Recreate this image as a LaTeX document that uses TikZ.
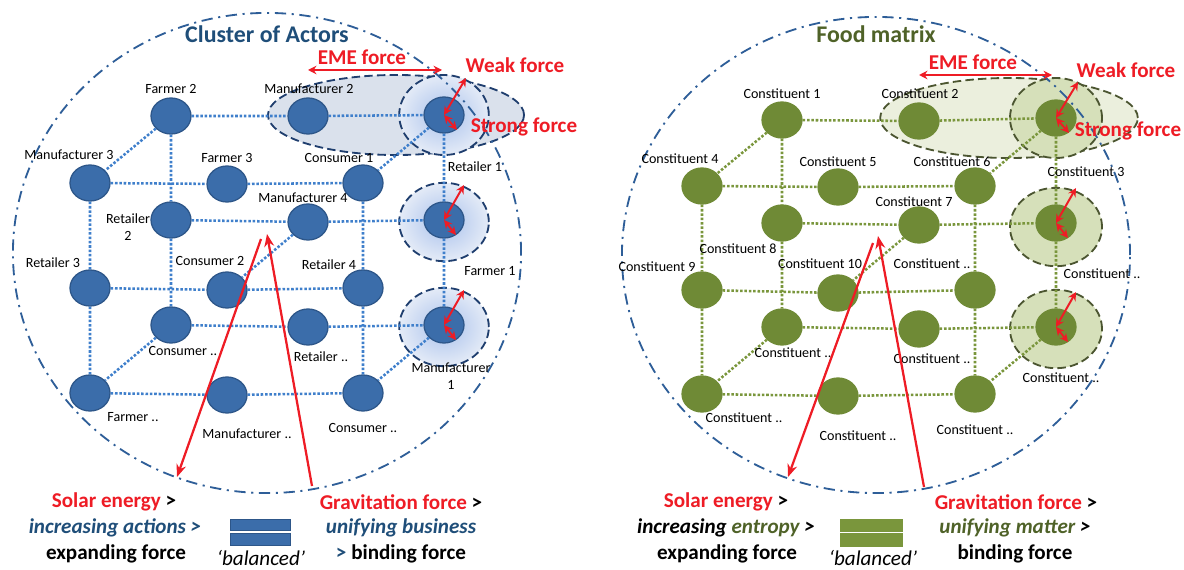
\documentclass[tikz,border=0pt]{standalone}
\usepackage{fontspec}
\setmainfont{Carlito}
\usetikzlibrary{shapes.geometric,arrows.meta}
\definecolor{actfill}{HTML}{3B6DAA}
\definecolor{actline}{HTML}{2D5689}
\definecolor{actedge}{HTML}{3F7FCB}
\definecolor{titleblue}{HTML}{1F4E79}
\definecolor{rimblue}{HTML}{2E5E98}
\definecolor{hullblue}{HTML}{1F3E6E}
\definecolor{hullbfill}{HTML}{DAE1EC}
\definecolor{haloin}{HTML}{A9C1EC}
\definecolor{haloout}{HTML}{E4EBF7}
\definecolor{partfill}{HTML}{6F8A36}
\definecolor{partedge}{HTML}{7A963C}
\definecolor{titlegreen}{HTML}{4F6228}
\definecolor{hullgreen}{HTML}{4B5530}
\definecolor{hullgfill}{HTML}{EBEFDD}
\definecolor{halogfill}{HTML}{D6E0BA}
\definecolor{fred}{HTML}{EE1C25}
\begin{document}
\begin{tikzpicture}[x=0.025cm, y=-0.025cm]
\tikzstyle{actor}=[ellipse, draw=actline, fill=actfill, line width=0.9pt, minimum width=1cm, minimum height=0.9cm, inner sep=0pt]
\tikzstyle{part}=[ellipse, draw=partfill, fill=partfill, line width=0.9pt, minimum width=1cm, minimum height=0.9cm, inner sep=0pt]
\tikzstyle{lbl}=[inner sep=0pt, align=center, font=\fontsize{10}{12}\selectfont]
\tikzstyle{blink}=[draw=actedge, line width=1.8pt, dash pattern=on 1.8pt off 1.3pt]
\tikzstyle{glink}=[draw=partedge, line width=1.8pt, dash pattern=on 1.8pt off 1.3pt]
\tikzstyle{rim}=[draw=rimblue, line width=1.3pt, dash pattern=on 8pt off 4pt on 1.5pt off 4pt]
\tikzstyle{bhull}=[draw=hullblue, fill=hullbfill, line width=1.3pt, dash pattern=on 6pt off 3pt]
\tikzstyle{bhalo}=[draw=hullblue, line width=1.3pt, dash pattern=on 6pt off 3pt, inner color=haloin, outer color=haloout]
\tikzstyle{ghull}=[draw=hullgreen, fill=hullgfill, line width=1.3pt, dash pattern=on 6pt off 3pt]
\tikzstyle{ghalo}=[draw=hullgreen, fill=halogfill, line width=1.3pt, dash pattern=on 6pt off 3pt]
\tikzstyle{force}=[draw=fred, line width=1.4pt, {Stealth[length=6pt,width=6pt]}-{Stealth[length=6pt,width=6pt]}]
\tikzstyle{ray}=[draw=fred, line width=1.6pt, -{Stealth[length=9pt,width=7pt]}]
\tikzstyle{ftxt}=[text=fred, font=\fontsize{15}{18}\selectfont\bfseries, inner sep=0pt]
\tikzstyle{btxt}=[font=\fontsize{15}{18}\selectfont\bfseries, inner sep=0pt]
\useasboundingbox (0,0) rectangle (1184,570);

% cluster of actors
\draw[bhull] (396,115) ellipse [x radius=3.2cm, y radius=1cm];
\shadedraw[bhalo] (444,115) ellipse [x radius=1.12cm, y radius=1cm];
\shadedraw[bhalo] (444,222) ellipse [x radius=1.12cm, y radius=0.98cm];
\shadedraw[bhalo] (444,327) ellipse [x radius=1.12cm, y radius=0.98cm];
\draw[rim] (267,253) ellipse [x radius=6.35cm, y radius=6cm];
\node[btxt, text=titleblue, font=\fontsize{17}{20}\selectfont\bfseries] (t1) at (267,34) {Cluster of Actors};

\node[actor] (a1) at (171,116) {};
\node[actor] (a2) at (308,116) {};
\node[actor] (a3) at (444,115) {};
\node[actor] (a4) at (90,183) {};
\node[actor] (a5) at (227,184) {};
\node[actor] (a6) at (363,183) {};
\node[actor] (a7) at (171,220) {};
\node[actor] (a8) at (308,222) {};
\node[actor] (a9) at (444,220) {};
\node[actor] (a10) at (90,288) {};
\node[actor] (a11) at (227,290) {};
\node[actor] (a12) at (363,288) {};
\node[actor] (a13) at (171,325) {};
\node[actor] (a14) at (308,327) {};
\node[actor] (a15) at (444,325) {};
\node[actor] (a16) at (90,393) {};
\node[actor] (a17) at (227,395) {};
\node[actor] (a18) at (363,393) {};
\draw[blink] (a1) -- (a2) (a2) -- (a3)
(a4) -- (a5) (a5) -- (a6)
(a7) -- (a8) (a8) -- (a9)
(a10) -- (a11) (a11) -- (a12)
(a13) -- (a14) (a14) -- (a15)
(a16) -- (a17) (a17) -- (a18)
(a1) -- (a7) (a7) -- (a13)
(a3) -- (a9) (a9) -- (a15)
(a4) -- (a10) (a10) -- (a16)
(a6) -- (a12) (a12) -- (a18)
(a1) -- (a4) (a3) -- (a6) (a8) -- (a11)
(a13) -- (a16) (a15) -- (a18);

\node[lbl] (n1) at (171,89) {Farmer 2};
\node[lbl] (n2) at (309,89) {Manufacturer 2};
\node[lbl] (n3) at (475,167) {Retailer 1};
\node[lbl] (n4) at (69,155) {Manufacturer 3};
\node[lbl] (n5) at (227,158) {Farmer 3};
\node[lbl] (n6) at (339,158) {Consumer 1};
\node[lbl] (n7) at (128,227) {Retailer\\2};
\node[lbl] (n8) at (303,198) {Manufacturer 4};
\node[lbl] (n9) at (490,271) {Farmer 1};
\node[lbl] (n10) at (53,263) {Retailer 3};
\node[lbl] (n11) at (210,261) {Consumer 2};
\node[lbl] (n12) at (329,265) {Retailer 4};
\node[lbl] (n13) at (183,351) {Consumer ..};
\node[lbl] (n14) at (321,357) {Retailer ..};
\node[lbl] (n15) at (451,376) {Manufacturer\\1};
\node[lbl] (n16) at (133,417) {Farmer ..};
\node[lbl] (n17) at (247,434) {Manufacturer ..};
\node[lbl] (n18) at (363,428) {Consumer ..};

% forces
\coordinate (e1) at (308,70);
\coordinate (e2) at (442,70);
\draw[force] (e1) -- (e2);
\node[ftxt] (f1) at (362,57) {EME force};
\draw[force] (a3.center) -- ++(22,-37);
\draw[force] (a3.center) -- ++(13,15);
\draw[force] (a9.center) -- ++(20,-35);
\draw[force] (a9.center) -- ++(12,15);
\draw[force] (a15.center) -- ++(20,-35);
\draw[force] (a15.center) -- ++(12,15);
\node[ftxt] (f2) at (515,65) {Weak force};
\node[ftxt] (f3) at (524,127) {Strong force};
\coordinate (s1) at (261,239);
\coordinate (s2) at (177,477);
\coordinate (g1) at (312,486);
\coordinate (g2) at (267,234);
\draw[ray] (s1) -- (s2);
\draw[ray] (g1) -- (g2);

\node[btxt] (b1) at (114,502) {\textcolor{fred}{Solar energy} >};
\node[btxt, text=titleblue] (b2) at (115,528) {\itshape increasing actions >};
\node[btxt] (b3) at (116,554) {expanding force};
\filldraw[fill=actfill, draw=actline] (230,519) rectangle (290,530);
\filldraw[fill=actfill, draw=actline] (230,533) rectangle (290,545);
\node[btxt, font=\fontsize{15}{18}\selectfont\itshape] (b4) at (261,558) {‘balanced’};
\node[btxt] (b5) at (401,502) {\textcolor{fred}{Gravitation force} >};
\node[btxt, text=titleblue] (b6) at (401,528) {\itshape unifying business};
\node[btxt] (b7) at (401,554) {\textcolor{titleblue}{>} binding force};

% food matrix
\draw[ghull] (1009,118) ellipse [x radius=3.22cm, y radius=1cm];
\draw[ghalo] (1056,118) ellipse [x radius=1.15cm, y radius=1cm];
\draw[ghalo] (1056,227) ellipse [x radius=1.15cm, y radius=0.98cm];
\draw[ghalo] (1056,329) ellipse [x radius=1.15cm, y radius=0.98cm];
\draw[rim] (876,255) ellipse [x radius=6.35cm, y radius=5.95cm];
\node[btxt, text=titlegreen, font=\fontsize{17}{20}\selectfont\bfseries] (t2) at (876,34) {Food matrix};

\node[part] (c1) at (782,120) {};
\node[part] (c2) at (919,121) {};
\node[part] (c3) at (1056,118) {};
\node[part] (c4) at (702,186) {};
\node[part] (c5) at (838,187) {};
\node[part] (c6) at (975,186) {};
\node[part] (c7) at (782,223) {};
\node[part] (c8) at (919,225) {};
\node[part] (c9) at (1056,223) {};
\node[part] (c10) at (702,290) {};
\node[part] (c11) at (838,293) {};
\node[part] (c12) at (975,290) {};
\node[part] (c13) at (782,327) {};
\node[part] (c14) at (919,329) {};
\node[part] (c15) at (1056,327) {};
\node[part] (c16) at (702,394) {};
\node[part] (c17) at (838,396) {};
\node[part] (c18) at (975,394) {};
\draw[glink] (c1) -- (c2) (c2) -- (c3)
(c4) -- (c5) (c5) -- (c6)
(c7) -- (c8) (c8) -- (c9)
(c10) -- (c11) (c11) -- (c12)
(c13) -- (c14) (c14) -- (c15)
(c16) -- (c17) (c17) -- (c18)
(c1) -- (c7) (c7) -- (c13)
(c3) -- (c9) (c9) -- (c15)
(c4) -- (c10) (c10) -- (c16)
(c6) -- (c12) (c12) -- (c18)
(c1) -- (c4) (c3) -- (c6) (c8) -- (c11)
(c13) -- (c16) (c15) -- (c18);

\node[lbl] (m1) at (782,94) {Constituent 1};
\node[lbl] (m2) at (920,94) {Constituent 2};
\node[lbl] (m3) at (1086,172) {Constituent 3};
\node[lbl] (m4) at (680,159) {Constituent 4};
\node[lbl] (m5) at (838,162) {Constituent 5};
\node[lbl] (m6) at (952,162) {Constituent 6};
\node[lbl] (m7) at (914,202) {Constituent 7};
\node[lbl] (m8) at (738,249) {Constituent 8};
\node[lbl] (m9) at (1102,274) {Constituent ..};
\node[lbl] (m10) at (657,267) {Constituent 9};
\node[lbl] (m11) at (820,264) {Constituent 10};
\node[lbl] (m12) at (932,264) {Constituent ..};
\node[lbl] (m13) at (793,353) {Constituent ..};
\node[lbl] (m14) at (932,359) {Constituent ..};
\node[lbl] (m15) at (1061,378) {Constituent ..};
\node[lbl] (m16) at (744,418) {Constituent ..};
\node[lbl] (m17) at (858,436) {Constituent ..};
\node[lbl] (m18) at (975,430) {Constituent ..};

% forces
\coordinate (e3) at (919,75);
\coordinate (e4) at (1052,75);
\draw[force] (e3) -- (e4);
\node[ftxt] (f4) at (973,62) {EME force};
\draw[force] (c3.center) -- ++(22,-36);
\draw[force] (c3.center) -- ++(13,15);
\draw[force] (c9.center) -- ++(20,-35);
\draw[force] (c9.center) -- ++(12,15);
\draw[force] (c15.center) -- ++(20,-35);
\draw[force] (c15.center) -- ++(12,15);
\node[ftxt] (f5) at (1126,70) {Weak force};
\node[ftxt] (f6) at (1128,131) {Strong force};
\coordinate (s3) at (873,243);
\coordinate (s4) at (788,477);
\coordinate (g3) at (924,487);
\coordinate (g4) at (878,236);
\draw[ray] (s3) -- (s4);
\draw[ray] (g3) -- (g4);

\node[btxt] (b8) at (726,502) {\textcolor{fred}{Solar energy} >};
\node[btxt] (b9) at (726,528) {\itshape increasing \textcolor{titlegreen}{entropy} >};
\node[btxt] (b10) at (727,554) {expanding force};
\filldraw[fill=partedge, draw=partedge] (840,519) rectangle (902,531);
\filldraw[fill=partedge, draw=partedge] (840,533) rectangle (902,546);
\node[btxt, font=\fontsize{15}{18}\selectfont\itshape] (b11) at (873,558) {‘balanced’};
\node[btxt] (b12) at (1016,502) {\textcolor{fred}{Gravitation force} >};
\node[btxt] (b13) at (1015,528) {\itshape\textcolor{titlegreen}{unifying matter} >};
\node[btxt] (b14) at (1015,554) {binding force};
\end{tikzpicture}
\end{document}
